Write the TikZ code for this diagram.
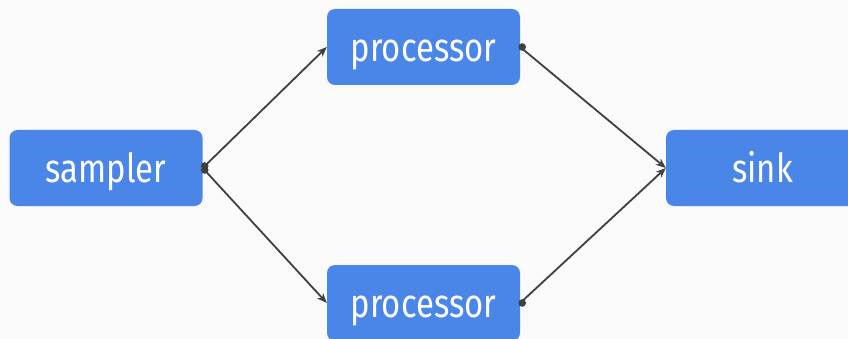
\documentclass[tikz,border=0pt]{standalone}
\usepackage{fontspec}
\setmainfont[FakeStretch=0.82]{Fira Sans}
\usetikzlibrary{arrows.meta}
\definecolor{bg}{HTML}{FAFAFA}
\definecolor{boxblue}{HTML}{4A86E8}
\definecolor{wire}{HTML}{404040}
\tikzset{
  blockbox/.style={fill=boxblue, draw=none, rounded corners=8pt, minimum width=193pt,
    minimum height=76pt, inner sep=0pt, text=white, text height=29pt, text depth=0pt,
    font=\fontsize{40}{46}\selectfont},
  link/.style={draw=wire, line width=1.8pt, -{Stealth[length=10pt,width=8pt]}},
  portdot/.style={fill=wire}
}
\begin{document}
\begin{tikzpicture}[x=1pt,y=-1pt]
  \fill[bg] (0,0) rectangle (848,339);
  \useasboundingbox (0,0) rectangle (848,339);
  \node[blockbox] (sampler) at (106,168) {sampler};
  \node[blockbox] (proc1) at (423.5,47) {processor};
  \node[blockbox] (proc2) at (423.5,303) {processor};
  \node[blockbox] (sink) at (762.5,168) {sink};
  \draw[link] (sampler.east) -- (proc1.west);
  \draw[link] (sampler.east) -- (proc2.west);
  \draw[link] (proc1.east) -- (sink.west);
  \draw[link] (proc2.east) -- (sink.west);
  \fill[portdot] ([xshift=2pt,yshift=-2pt]sampler.east) circle (3.8pt);
  \fill[portdot] ([xshift=2pt,yshift=2pt]sampler.east) circle (3.8pt);
  \fill[portdot] ([xshift=2pt]proc1.east) circle (3.8pt);
  \fill[portdot] ([xshift=2pt]proc2.east) circle (3.8pt);
\end{tikzpicture}
\end{document}
